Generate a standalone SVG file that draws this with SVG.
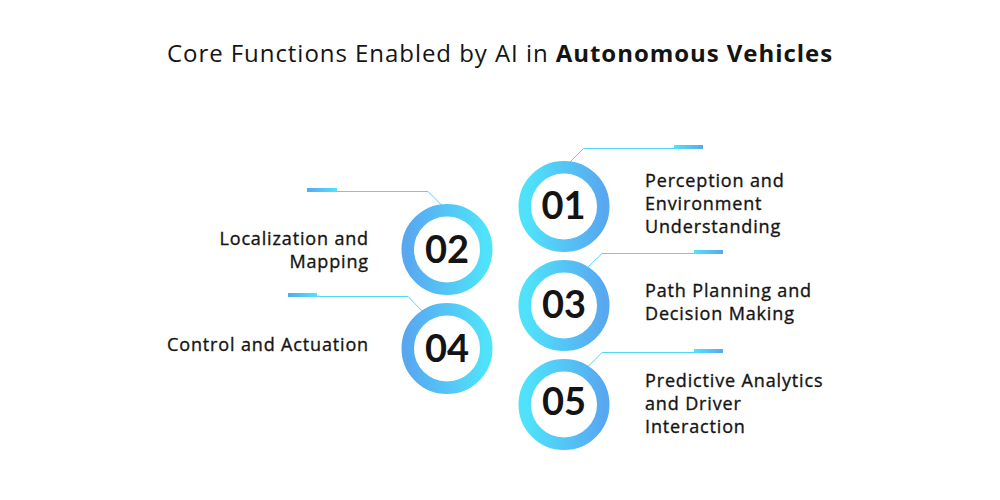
<svg xmlns="http://www.w3.org/2000/svg" width="1000" height="500" viewBox="0 0 1000 500">
<defs>
<linearGradient id="gR" x1="0" y1="0" x2="1" y2="0"><stop offset="0" stop-color="#4fe3fb"/><stop offset="1" stop-color="#58a8f0"/></linearGradient>
<linearGradient id="gL" x1="0" y1="0" x2="1" y2="0"><stop offset="0" stop-color="#58a8f0"/><stop offset="1" stop-color="#4fe3fb"/></linearGradient>
<style>
.t{font-family:"Open Sans","Liberation Sans",sans-serif;fill:#141414}
.title{font-size:24px;letter-spacing:0.95px}
.lab{font-size:18px;font-weight:500;letter-spacing:0.85px;stroke:#141414;stroke-width:0.35px}
.num{font-family:Lato,"Liberation Sans",sans-serif;font-size:38px;font-weight:700;text-anchor:middle}
.ringR{fill:none;stroke:url(#gR);stroke-width:12.5}
.ringL{fill:none;stroke:url(#gL);stroke-width:12.5}
.ln{fill:none;stroke:#4fd8f6;stroke-width:1}
</style>
</defs>
<rect width="1000" height="500" fill="#ffffff"/>
<text class="t title" x="500" y="62" text-anchor="middle">Core Functions Enabled by AI in <tspan font-weight="700">Autonomous Vehicles</tspan></text>
<g id="connectors">
<polyline class="ln" points="565,167 583.5,148.5 703,148.5"/>
<rect x="674" y="145" width="29" height="4" fill="url(#gR)"/>
<polyline class="ln" points="445,208.5 428,191.5 337,191.5"/>
<rect x="307" y="188" width="30" height="4" fill="url(#gL)"/>
<polyline class="ln" points="584,271 602,253.5 723,253.5"/>
<rect x="694" y="250" width="29" height="4" fill="url(#gR)"/>
<polyline class="ln" points="423,312 408,296.5 317,296.5"/>
<rect x="288" y="293" width="29" height="4" fill="url(#gL)"/>
<polyline class="ln" points="583,371.5 602,352.5 723,352.5"/>
<rect x="694" y="349" width="29" height="4" fill="url(#gR)"/>
</g>
<g id="node01">
<circle class="ringR" cx="564" cy="206.5" r="39.25"/>
<text class="t num" x="563.5" y="219">01</text>
<text class="t lab" x="645" y="187">Perception and<tspan x="645" dy="23">Environment</tspan><tspan x="645" dy="23">Understanding</tspan></text>
</g>
<g id="node02">
<circle class="ringL" cx="447" cy="249.5" r="39.25"/>
<text class="t num" x="447" y="263">02</text>
<text class="t lab" x="369" y="245" text-anchor="end">Localization and<tspan x="369" dy="23">Mapping</tspan></text>
</g>
<g id="node03">
<circle class="ringR" cx="564" cy="305.5" r="39.25"/>
<text class="t num" x="564" y="318">03</text>
<text class="t lab" x="645" y="297">Path Planning and<tspan x="645" dy="23">Decision Making</tspan></text>
</g>
<g id="node04">
<circle class="ringL" cx="447" cy="348.5" r="39.25"/>
<text class="t num" x="447" y="361.5">04</text>
<text class="t lab" x="369" y="351" text-anchor="end">Control and Actuation</text>
</g>
<g id="node05">
<circle class="ringR" cx="564" cy="404.5" r="39.25"/>
<text class="t num" x="564" y="415">05</text>
<text class="t lab" x="645" y="387">Predictive Analytics<tspan x="645" dy="23">and Driver</tspan><tspan x="645" dy="23">Interaction</tspan></text>
</g>
</svg>
